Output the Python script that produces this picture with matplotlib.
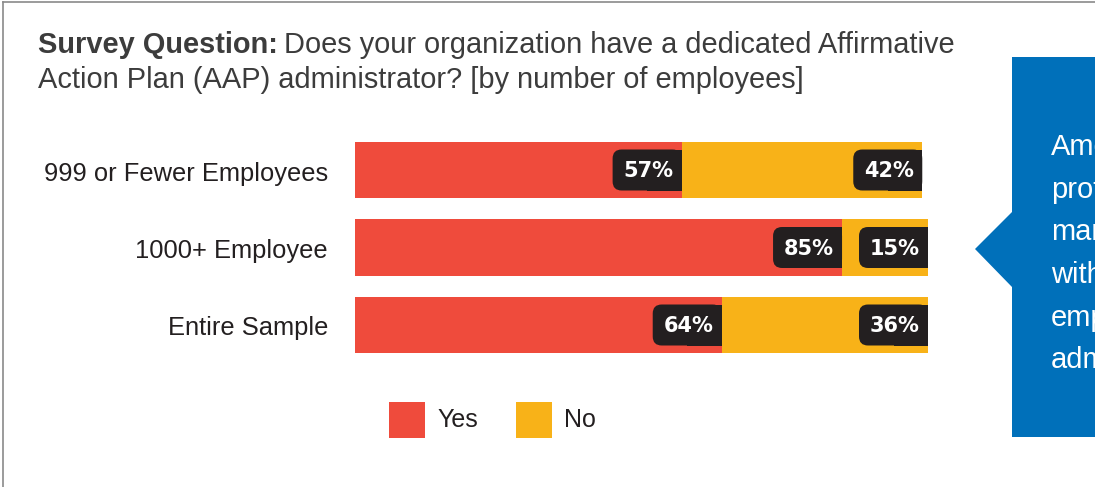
import matplotlib.pyplot as plt
import matplotlib.transforms as mtransforms
from matplotlib.patches import FancyBboxPatch, Rectangle, Polygon
from matplotlib.lines import Line2D

plt.rcParams["font.family"] = ["Liberation Sans", "DejaVu Sans"]

# Survey shares by organization size (percent)
categories = ["999 or Fewer Employees", "1000+ Employee", "Entire Sample"]
yes_pct = [57, 85, 64]
no_pct = [42, 15, 36]
series_names = ["Yes", "No"]

RED = "#EF4B3C"
YELLOW = "#F8B218"
DARK = "#231F20"
BLUE = "#0070BA"
TITLE_GREY = "#3C3C3C"

W, H = 1095, 487
fig = plt.figure(figsize=(W / 100, H / 100), dpi=100)


def fx(px):
    return px / W


def fy(py):
    return 1 - py / H


# frame lines (top + left)
fig.add_artist(Line2D([fx(3), 1], [fy(2), fy(2)], color="#8A8A8A", lw=1.2))
fig.add_artist(Line2D([fx(3), fx(3)], [fy(2), 0], color="#8A8A8A", lw=1.2))

# title, bold lead-in followed by regular text
TITLE_SIZE = 20.9
t1 = fig.text(fx(38), fy(53), "Survey Question:", fontsize=TITLE_SIZE, fontweight="bold",
              color=TITLE_GREY, va="baseline", ha="left")
fig.text(fx(38), fy(88), "Action Plan (AAP) administrator? [by number of employees]",
         fontsize=TITLE_SIZE, color=TITLE_GREY, va="baseline", ha="left")
fig.canvas.draw()
bb = t1.get_window_extent()
fig.text((bb.x1 + 6) / W, fy(53),
         "Does your organization have a dedicated Affirmative",
         fontsize=TITLE_SIZE, color=TITLE_GREY, va="baseline", ha="left")

# bar axes: x 0..100 spans px 355..928, rows 77.5 px apart
row_h = 77.5
top = 170 - row_h / 2
ax = fig.add_axes([fx(355), fy(top + 3 * row_h), (928 - 355) / W, 3 * row_h / H])
ax.set_xlim(0, 100)
ax.set_ylim(2.5, -0.5)
ax.axis("off")

ypos = list(range(len(categories)))
ax.barh(ypos, yes_pct, height=0.735, color=RED, label=series_names[0])
ax.barh(ypos, no_pct, left=yes_pct, height=0.735, color=YELLOW, label=series_names[1])

for y, name in zip(ypos, categories):
    ax.text(-27 / 5.73, y + 10.5 / row_h, name, ha="right", va="baseline",
            fontsize=18.4, color=DARK)


def value_tag(x_end, y, label):
    # dark tag, rounded on the left, flush with the segment end
    trans = fig.dpi_scale_trans + mtransforms.ScaledTranslation(x_end, y, ax.transData)
    w, h = 0.69, 0.41
    ax.add_patch(FancyBboxPatch((-w, -h / 2), w, h,
                                boxstyle="round,pad=0,rounding_size=0.09",
                                fc=DARK, ec="none", transform=trans, zorder=4))
    ax.add_patch(Rectangle((-w / 2, -h / 2), w / 2, h, fc=DARK, ec="none",
                           transform=trans, zorder=4))
    ax.text(-w / 2 + 0.01, -0.01, label, transform=trans, ha="center", va="center",
            color="white", fontsize=15, fontweight="bold", family="DejaVu Sans", zorder=5)


for y, a, b in zip(ypos, yes_pct, no_pct):
    value_tag(a, y, f"{a}%")
    value_tag(a + b, y, f"{b}%")

# legend drawn as swatches below the bars
legend_y = 420
for (x0, name, col) in [(389, series_names[0], RED), (516, series_names[1], YELLOW)]:
    fig.add_artist(Rectangle((fx(x0), fy(legend_y + 18)), 36 / W, 36 / H,
                             fc=col, ec="none"))
    fig.text(fx(x0 + 48), fy(legend_y), name, fontsize=18, color=DARK,
             va="center", ha="left")

# blue callout on the right, running off the edge of the figure
fig.add_artist(Polygon([(fx(1012), fy(57)), (1.02, fy(57)), (1.02, fy(437)),
                        (fx(1012), fy(437)), (fx(1012), fy(287)),
                        (fx(975), fy(249)), (fx(1012), fy(212))],
                       closed=True, fc=BLUE, ec="none"))
callout = ["Among", "professionals,", "many", "with", "employees", "administrators"]
for i, line in enumerate(callout):
    fig.text(fx(1051), fy(147 + i * 42.7), line, fontsize=21, color="white",
             va="center", ha="left")

fig.savefig("out.png", dpi=100)
